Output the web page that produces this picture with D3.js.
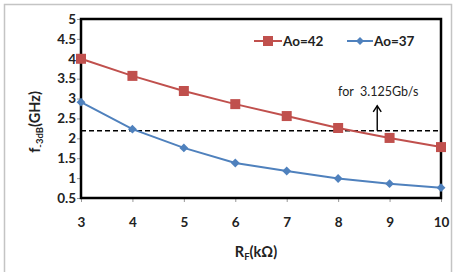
<!DOCTYPE html>
<html>
<head>
<meta charset="utf-8">
<script src="https://d3js.org/d3.v7.min.js"></script>
<style>
  body { margin: 0; background: #fff; }
  text { font-family: Lato, "Open Sans", sans-serif; }
</style>
</head>
<body>
<div id="chart"></div>
<script>
const rf = [3, 4, 5, 6, 7, 8, 9, 10]
const ao42 = [4.0, 3.57, 3.19, 2.86, 2.56, 2.26, 2.01, 1.78]
const ao37 = [2.91, 2.23, 1.76, 1.38, 1.18, 0.99, 0.86, 0.76]
const yTicks = [0.5, 1, 1.5, 2, 2.5, 3, 3.5, 4, 4.5, 5]
const target = 2.19
const arrowAt = 8.76

const width = 461, height = 272
const m = {left: 81, right: 20, top: 19, bottom: 74}

const svg = d3.select("#chart").append("svg")
    .attr("width", width)
    .attr("height", height)

// outer frame
svg.append("rect")
    .attr("x", 4.5).attr("y", 4.5)
    .attr("width", 447).attr("height", 275)
    .attr("fill", "none")
    .attr("stroke", "#c4c4c4")
    .attr("stroke-width", 1.5)

const x = d3.scaleLinear().domain([3, 10]).range([m.left, width - m.right])
const y = d3.scaleLinear().domain([0.5, 5]).range([height - m.bottom, m.top])

const xAxis = svg.append("g")
    .attr("transform", `translate(0,${height - m.bottom})`)
    .call(d3.axisBottom(x).tickValues(rf).tickSize(4).tickFormat(d3.format("d")))
xAxis.select(".domain").remove()
xAxis.selectAll("line").attr("stroke", "#999")
xAxis.selectAll("text")
    .attr("dy", 0).attr("y", 29)
    .attr("font-size", 13.5).attr("font-weight", "bold").attr("fill", "#222")

const yAxis = svg.append("g")
    .attr("transform", `translate(${m.left},0)`)
    .call(d3.axisLeft(y).tickValues(yTicks).tickSize(4).tickFormat(d => d))
yAxis.select(".domain").remove()
yAxis.selectAll("line").attr("stroke", "#999")
yAxis.selectAll("text")
    .attr("x", -5)
    .attr("font-size", 13.5).attr("font-weight", "bold").attr("fill", "#222")

// plot frame
svg.append("rect")
    .attr("x", x(3)).attr("y", y(5))
    .attr("width", x(10) - x(3)).attr("height", y(0.5) - y(5))
    .attr("fill", "none")
    .attr("stroke", "#000")
    .attr("stroke-width", 2.5)

// target line
svg.append("line")
    .attr("x1", x(3)).attr("x2", x(10))
    .attr("y1", y(target)).attr("y2", y(target))
    .attr("stroke", "#000")
    .attr("stroke-width", 1.5)
    .attr("stroke-dasharray", "5,3")

const ax = x(arrowAt), ay = y(target) - 25
svg.append("line")
    .attr("x1", ax).attr("x2", ax)
    .attr("y1", y(target)).attr("y2", ay)
    .attr("stroke", "#000").attr("stroke-width", 1.4)
svg.append("path")
    .attr("d", `M${ax - 4},${ay + 6} L${ax},${ay} L${ax + 4},${ay + 6}`)
    .attr("fill", "none").attr("stroke", "#000").attr("stroke-width", 1.4)

svg.append("text")
    .attr("x", x(arrowAt) + 1).attr("y", y(target) - 35)
    .attr("text-anchor", "middle")
    .attr("font-size", 12.5)
    .attr("fill", "#222")
    .attr("xml:space", "preserve")
    .text("for  3.125Gb/s")

const line = d3.line().x((d, i) => x(rf[i])).y(d => y(d))

const red = "#c0504d", blue = "#4f81bd"

svg.append("path").datum(ao42)
    .attr("d", line).attr("fill", "none")
    .attr("stroke", red).attr("stroke-width", 2)
svg.selectAll("rect.sq").data(ao42).enter().append("rect")
    .attr("class", "sq")
    .attr("x", (d, i) => x(rf[i]) - 5).attr("y", d => y(d) - 5)
    .attr("width", 10).attr("height", 10)
    .attr("fill", red)

svg.append("path").datum(ao37)
    .attr("d", line).attr("fill", "none")
    .attr("stroke", blue).attr("stroke-width", 2)
svg.selectAll("path.dia").data(ao37).enter().append("path")
    .attr("class", "dia")
    .attr("transform", (d, i) => `translate(${x(rf[i])},${y(d)})`)
    .attr("d", d3.symbol(d3.symbolDiamond2, 50))
    .attr("fill", blue)

// legend
const leg = svg.append("g").attr("transform", "translate(254,41)")
leg.append("line").attr("x1", 0).attr("x2", 28).attr("stroke", red).attr("stroke-width", 2)
leg.append("rect").attr("x", 9).attr("y", -5).attr("width", 10).attr("height", 10).attr("fill", red)
leg.append("text").attr("x", 29).attr("y", 5)
    .attr("font-size", 13.5).attr("font-weight", "bold").attr("fill", "#222").text("Ao=42")
leg.append("line").attr("x1", 93).attr("x2", 119).attr("stroke", blue).attr("stroke-width", 2)
leg.append("path").attr("transform", "translate(106,0)")
    .attr("d", d3.symbol(d3.symbolDiamond2, 40)).attr("fill", blue)
leg.append("text").attr("x", 120).attr("y", 5)
    .attr("font-size", 13.5).attr("font-weight", "bold").attr("fill", "#222").text("Ao=37")

// axis titles
const xt = svg.append("text")
    .attr("x", 256).attr("y", 257)
    .attr("text-anchor", "middle")
    .attr("font-size", 14.5).attr("font-weight", "bold").attr("fill", "#222")
xt.append("tspan").text("R")
xt.append("tspan").attr("font-size", 9.5).attr("dy", 3).text("F")
xt.append("tspan").attr("dy", -3).text("(kΩ)")

const yt = svg.append("text")
    .attr("transform", "translate(40,122) rotate(-90)")
    .attr("text-anchor", "middle")
    .attr("font-size", 14.5).attr("font-weight", "bold").attr("fill", "#222")
yt.append("tspan").text("f")
yt.append("tspan").attr("font-size", 9.5).attr("dy", 3).text("-3dB")
yt.append("tspan").attr("dy", -3).text("(GHz)")
</script>
</body>
</html>
